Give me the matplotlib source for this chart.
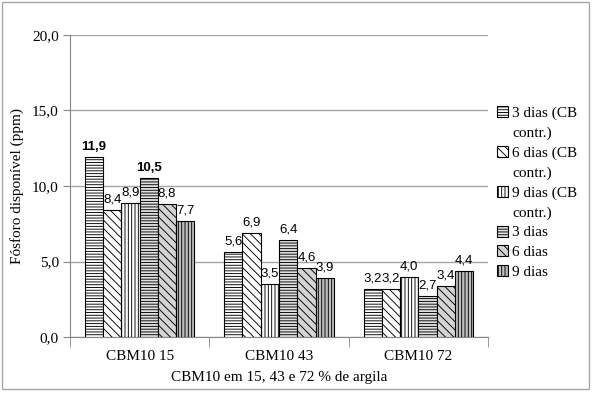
import matplotlib.pyplot as plt
import numpy as np
from matplotlib.patches import Rectangle, Patch

groups = ["CBM10 15", "CBM10 43", "CBM10 72"]
series = ["3 dias (CB\ncontr.)", "6 dias (CB\ncontr.)", "9 dias (CB\ncontr.)",
          "3 dias", "6 dias", "9 dias"]
values = [
    [11.9, 5.6, 3.2],
    [8.4, 6.9, 3.2],
    [8.9, 3.5, 4.0],
    [10.5, 6.4, 2.7],
    [8.8, 4.6, 3.4],
    [7.7, 3.9, 4.4],
]
bold_labels = [(0, 0), (3, 0)]  # (series, group) shown in bold

colors = ["white", "white", "white", "#e0e0e0", "#d4d4d4", "#bdbdbd"]
hatches = ["------", "\\\\\\\\", "|||||", "------", "\\\\\\\\", "|||||"]

plt.rcParams['hatch.linewidth'] = 0.65
serif = ['Liberation Serif', 'DejaVu Serif']
sans = ['Liberation Sans', 'DejaVu Sans']

fig = plt.figure(figsize=(5.96, 3.94), dpi=100)
fig.patches.append(Rectangle((0.003, 0.012), 0.985, 0.983, transform=fig.transFigure,
                             fill=False, edgecolor='#a6a6a6', lw=1))
ax = fig.add_axes([70 / 596, 1 - 337 / 394, 418 / 596, 302 / 394])

x = np.arange(len(groups))
w = 0.131
handles, labels = [], []
for i, vals in enumerate(values):
    pos = x + (i - 2.5) * w
    bars = ax.bar(pos, vals, w, color=colors[i], edgecolor='black', hatch=hatches[i],
                  lw=0.8, zorder=3)
    for j, v in enumerate(vals):
        bold = (i, j) in bold_labels
        ax.text(pos[j], v + 0.3, f"{v:.1f}".replace('.', ','), ha='center', va='bottom',
                fontsize=9.5, family=sans, fontweight='bold' if bold else 'normal', zorder=4)
    # legend: handle on the first line of a wrapped label
    parts = series[i].split("\n")
    handles.append(bars[0])
    labels.append(parts[0])
    for p in parts[1:]:
        handles.append(Patch(facecolor='none', edgecolor='none'))
        labels.append(p)

ax.set_ylim(0, 20)
ax.set_xlim(-0.5, 2.5)
ax.set_yticks([0, 5, 10, 15, 20])
ax.set_yticklabels(["0,0", "5,0", "10,0", "15,0", "20,0"], family=serif, fontsize=11)
ax.yaxis.grid(True, color='#a6a6a6', lw=1, zorder=0)
ax.set_xticks(x)
ax.set_xticklabels(groups, family=serif, fontsize=11)
ax.tick_params(axis='x', which='major', length=0, pad=9)
ax.set_xticks([-0.5, 0.5, 1.5, 2.5], minor=True)
ax.tick_params(axis='x', which='minor', length=7, color='#868686')
ax.tick_params(axis='y', length=5, color='#868686', pad=3)
for s in ['top', 'right']:
    ax.spines[s].set_visible(False)
ax.spines['left'].set_color('#868686')
ax.spines['bottom'].set_color('#868686')

ax.set_ylabel("Fósforo disponível (ppm)", family=serif, fontsize=11, labelpad=6)
ax.set_xlabel("CBM10 em 15, 43 e 72 % de argila", family=serif, fontsize=11, labelpad=6)

leg = ax.legend(handles, labels, loc='upper left', bbox_to_anchor=(0.995, 0.80),
                frameon=False, prop={'family': serif, 'size': 11},
                handlelength=0.75, handleheight=0.75, handletextpad=0.25,
                labelspacing=0.38, borderaxespad=0.3)

fig.savefig("out.png", dpi=100)
